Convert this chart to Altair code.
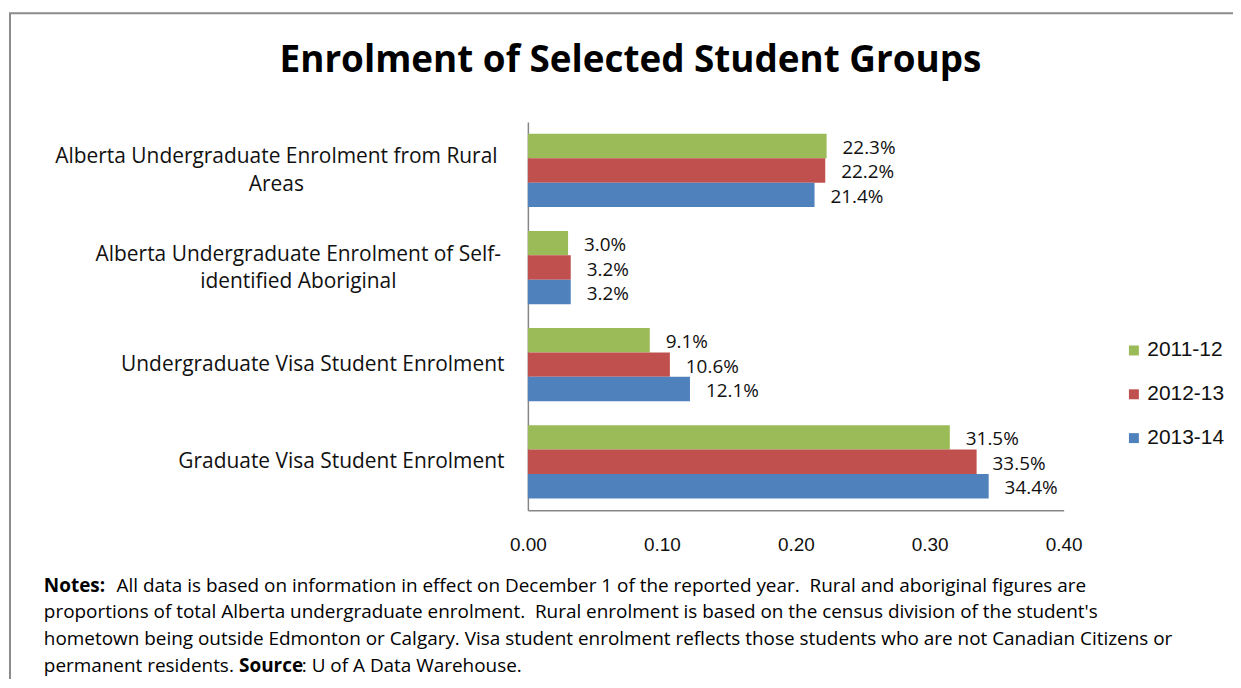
import altair as alt
import pandas as pd

# ---------------- data ----------------
categories = [
    "Alberta Undergraduate Enrolment from Rural\nAreas",
    "Alberta Undergraduate Enrolment of Self-\nidentified Aboriginal",
    "Undergraduate Visa Student Enrolment",
    "Graduate Visa Student Enrolment",
]
years = ["2011-12", "2012-13", "2013-14"]
values_2011_12 = [0.223, 0.030, 0.091, 0.315]
values_2012_13 = [0.222, 0.032, 0.106, 0.335]
values_2013_14 = [0.214, 0.032, 0.121, 0.344]
colors = ["#9BBB59", "#C0504D", "#4F81BD"]
x_ticks = [0.0, 0.1, 0.2, 0.3, 0.4]

title_text = "Enrolment of Selected Student Groups"
notes_label = "Notes:"
notes_line1 = "All data is based on information in effect on December 1 of the reported year.\u00a0 Rural and aboriginal figures are"
notes_line2 = "proportions of total Alberta undergraduate enrolment.\u00a0 Rural enrolment is based on the census division of the student's"
notes_line3 = "hometown being outside Edmonton or Calgary. Visa student enrolment reflects those students who are not Canadian Citizens or"
notes_line4a = "permanent residents."
source_label = "Source"
notes_line4b = ": U of A Data Warehouse."

rows = []
for yr, vals in zip(years, [values_2011_12, values_2012_13, values_2013_14]):
    for c, v in zip(categories, vals):
        rows.append({"category": c, "year": yr, "value": v})
df = pd.DataFrame(rows)

# ---------------- styles ----------------
W, H = 538, 390
PAD_L, PAD_T = 522, 113
AXIS_GRAY = "#868686"
TEXT_FONT = "Open Sans"
NUM_FONT = "Liberation Sans"

y_enc = alt.Y(
    "category:N",
    sort=categories,
    title=None,
    scale=alt.Scale(paddingInner=0.246, paddingOuter=0.123),
    axis=alt.Axis(
        ticks=False,
        grid=False,
        domainColor=AXIS_GRAY,
        domainWidth=1.5,
        labelExpr="split(datum.label, '\\n')",
        labelFont=TEXT_FONT,
        labelFontSize=21,
        labelLineHeight=28,
        labelColor="#111111",
        labelLimit=700,
        labelAlign={
            "condition": {"test": "indexof(datum.value, '\\n') >= 0", "value": "center"},
            "value": "right",
        },
        labelOffset={
            "condition": {"test": "indexof(datum.value, '\\n') >= 0", "value": -13},
            "value": 0,
        },
        labelPadding={
            "condition": [
                {"test": "indexof(datum.value, 'Rural') >= 0", "value": 253},
                {"test": "indexof(datum.value, 'Self') >= 0", "value": 231},
            ],
            "value": 24,
        },
    ),
)
yoff_enc = alt.YOffset("year:N", sort=years, scale=alt.Scale(paddingInner=0, paddingOuter=0))
x_enc = alt.X(
    "value:Q",
    title=None,
    scale=alt.Scale(domain=[0, 0.4], nice=False, zero=True),
    axis=alt.Axis(
        values=x_ticks,
        format=".2f",
        ticks=False,
        grid=False,
        domainColor=AXIS_GRAY,
        domainWidth=1.5,
        labelFlush=False,
        labelOverlap=False,
        labelFont=NUM_FONT,
        labelFontSize=19,
        labelPadding=25,
        labelColor="#111111",
    ),
)

bars = alt.Chart(df).mark_bar().encode(
    y=y_enc,
    yOffset=yoff_enc,
    x=x_enc,
    color=alt.Color(
        "year:N",
        sort=years,
        scale=alt.Scale(domain=years, range=colors),
        legend=alt.Legend(
            title=None,
            orient="none",
            legendX=598,
            legendY=219,
            symbolType="square",
            symbolSize=100,
            symbolStrokeWidth=0,
            labelFont=NUM_FONT,
            labelFontSize=21,
            labelOffset=3,
            rowPadding=22,
            labelColor="#111111",
        ),
    ),
)

labels = alt.Chart(df).mark_text(
    align="left", baseline="middle", dx=16, dy=2, font=TEXT_FONT, fontSize=19, color="#111111"
).encode(
    y=alt.Y("category:N", sort=categories),
    yOffset=alt.YOffset("year:N", sort=years),
    x=alt.X("value:Q"),
    text=alt.Text("value:Q", format=".1%"),
)

border = alt.Chart(alt.Data(values=[{"b": 1}])).mark_rect(
    fillOpacity=0, stroke="#8c8c8c", strokeWidth=2
).encode(
    x=alt.value(-520), x2=alt.value(730), y=alt.value(-109), y2=alt.value(620)
)


def text_mark(txt, px, py, size, weight="normal", align="left", font=TEXT_FONT):
    return alt.Chart(alt.Data(values=[{"t": txt}])).mark_text(
        align=align, baseline="middle", font=font, fontSize=size, fontWeight=weight, color="#000000"
    ).encode(x=alt.value(px), y=alt.value(py), text="t:N")


title = text_mark(title_text, 103, -61, 37, weight="bold", align="center")
nfs = 19
notes = [
    text_mark(notes_label, -486, 466, nfs, weight="bold"),
    text_mark(notes_line1, -413, 466, nfs),
    text_mark(notes_line2, -486, 492, nfs),
    text_mark(notes_line3, -486, 519, nfs),
    text_mark(notes_line4a, -486, 546, nfs),
    text_mark(source_label, -290, 546, nfs, weight="bold"),
    text_mark(notes_line4b, -227, 546, nfs),
]

chart = alt.layer(border, bars, labels, title, *notes).properties(
    width=W,
    height=H,
    background="white",
    padding={"left": PAD_L, "top": PAD_T, "right": 170, "bottom": 168},
    autosize=alt.AutoSizeParams(type="none"),
).configure_view(stroke=None)

chart.save("out.html", embed_options={"renderer": "svg", "actions": False})
